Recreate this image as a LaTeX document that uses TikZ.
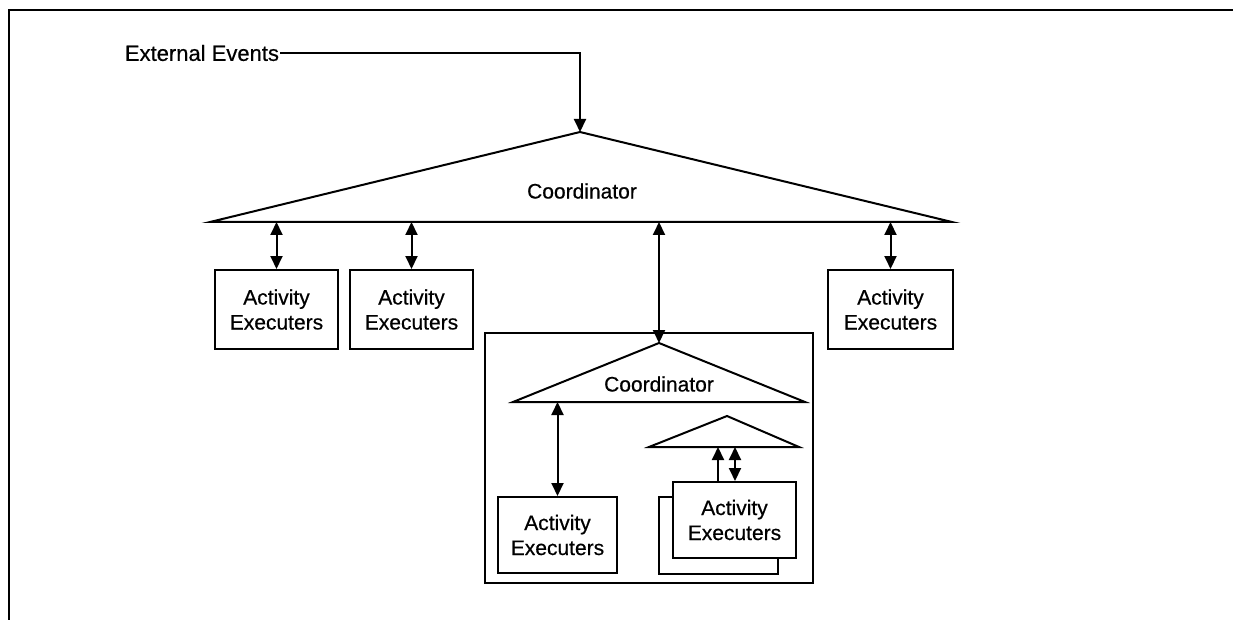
\documentclass[tikz,border=0pt]{standalone}
\usepackage{fontspec}
\setmainfont{Liberation Sans}[BoldFont=Liberation Sans,BoldFeatures={FakeBold=0.5}]
\usetikzlibrary{arrows.meta}
\begin{document}
\begin{tikzpicture}[x=1pt,y=-1pt,line width=2pt,
  tip/.style={-{Triangle[length=13pt,width=12pt]}},
  both/.style={{Triangle[length=13pt,width=12pt]}-{Triangle[length=13pt,width=12pt]}},
  exbox/.style={draw,fill=white,align=center,inner sep=0pt,font=\bfseries\fontsize{21}{25}\selectfont},
  label/.style={font=\bfseries\fontsize{21}{25}\selectfont,inner sep=0pt}]
\useasboundingbox (0,0) rectangle (1233,620);

% page frame (top and left edges)
\draw (9,620) -- (9,10) -- (1233,10);

% top-level coordinator
\coordinate (topapex) at (580,132);
\coordinate (topL) at (210,222);
\coordinate (topR) at (952,222);
\draw (topL) -- (topapex) -- (topR) -- cycle;
\node[label] (coord1) at (582,191) {Coordinator};

% external events input
\node[label,anchor=east,font=\bfseries\fontsize{22}{26}\selectfont] (ext) at (280,53) {External Events};
\coordinate (extturn) at (580,53);
\draw[tip] (ext.east) -- (extturn) -- (topapex);

% activity executers under the top coordinator
\node[exbox,minimum width=123pt,minimum height=79pt] (ae1) at (276.5,309.5) {Activity\\Executers};
\node[exbox,minimum width=123pt,minimum height=79pt] (ae2) at (411.5,309.5) {Activity\\Executers};
\node[exbox,minimum width=125pt,minimum height=79pt] (ae4) at (890.5,309.5) {Activity\\Executers};

\draw[both] (ae1.north |- topL) -- (ae1.north);
\draw[both] (ae2.north |- topL) -- (ae2.north);
\draw[both] (ae4.north |- topL) -- (ae4.north);

% nested subsystem
\node[draw,minimum width=328pt,minimum height=250pt,inner sep=0pt] (sub) at (649,458) {};

\coordinate (midapex) at (659,343);
\coordinate (midL) at (513,402);
\coordinate (midR) at (805,402);
\draw (midL) -- (midapex) -- (midR) -- cycle;
\node[label] (coord2) at (659,384) {Coordinator};

\draw[both] (midapex |- topL) -- (midapex);

\node[exbox,minimum width=119pt,minimum height=76pt] (ae5) at (557.5,535) {Activity\\Executers};
\draw[both] (ae5.north |- midL) -- (ae5.north);

% innermost coordinator with a stack of executers
\coordinate (lowapex) at (727,416);
\coordinate (lowL) at (649,447);
\coordinate (lowR) at (799,447);
\draw (lowL) -- (lowapex) -- (lowR) -- cycle;

\node[draw,fill=white,minimum width=119pt,minimum height=77pt,inner sep=0pt] (aeback) at (718.5,535.5) {};
\node[exbox,minimum width=123pt,minimum height=76pt] (aefront) at (734.5,520) {Activity\\Executers};

\coordinate (upx) at (718,0);
\coordinate (dnx) at (735,0);
\draw[tip] (upx |- aefront.north) -- (upx |- lowL);
\draw[both] (dnx |- lowL) -- (dnx |- aefront.north);
\end{tikzpicture}
\end{document}
